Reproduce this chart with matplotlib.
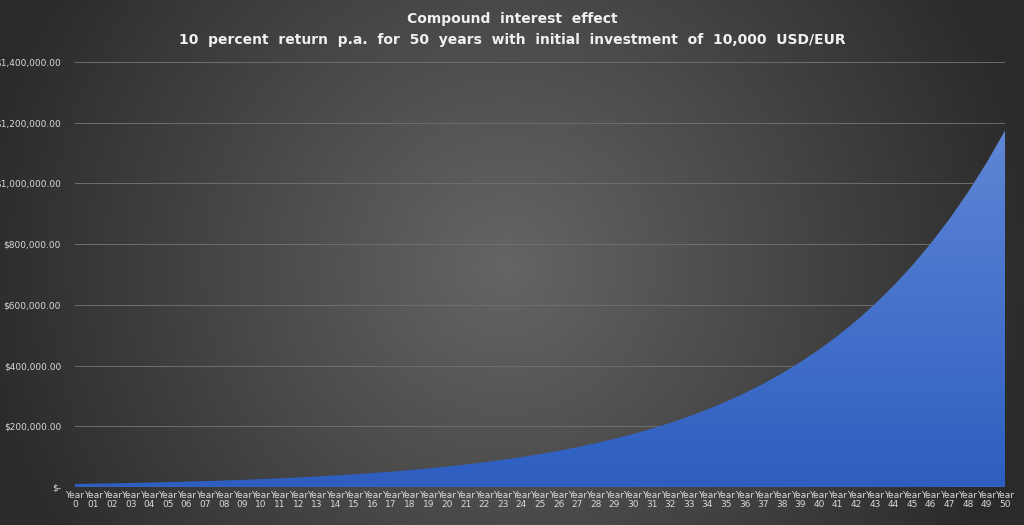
import matplotlib.pyplot as plt
import numpy as np
from matplotlib.colors import LinearSegmentedColormap

years = ["Year\n0"] + ["Year\n%02d" % i for i in range(1, 51)]
values = [10000, 11000, 12100, 13310, 14641, 16105, 17716, 19487, 21436, 23579,
          25937, 28531, 31384, 34523, 37975, 41772, 45950, 50545, 55599, 61159,
          67275, 74002, 81403, 89543, 98497, 108347, 119182, 131100, 144210, 158631,
          174494, 191943, 211138, 232252, 255477, 281024, 309127, 340039, 374043, 411448,
          452593, 497852, 547637, 602401, 662641, 728905, 801795, 881975, 970172, 1067190,
          1173909]
yticks = [0, 200000, 400000, 600000, 800000, 1000000, 1200000, 1400000]
ylabels = ["$-"] + ["${:,.2f}".format(v) for v in yticks[1:]]

fig = plt.figure(figsize=(10.24, 5.25), dpi=100)

# radial background
bg = fig.add_axes([0, 0, 1, 1], zorder=0)
yy, xx = np.mgrid[0:525, 0:1024]
r = np.hypot(xx - 505, yy - 265) / 540
bg.imshow(np.clip(r, 0, 1), cmap=LinearSegmentedColormap.from_list("bg", ["#656565", "#2a2a2a"]),
          extent=[0, 1, 0, 1], aspect="auto", origin="upper")
bg.axis("off")

ax = fig.add_axes([75 / 1024, 38 / 525, 930 / 1024, 425 / 525], zorder=1)
ax.patch.set_alpha(0)
x = np.arange(len(values))
poly = ax.fill_between(x, values, 0, color="none")
grad = ax.imshow(np.linspace(1, 0, 256).reshape(-1, 1),
                 cmap=LinearSegmentedColormap.from_list("b", ["#2d5ec0", "#5f86d6"]),
                 extent=[0, 50, 0, 1173909], aspect="auto", origin="upper", zorder=2)
grad.set_clip_path(poly.get_paths()[0], transform=ax.transData)
ax.set_xlim(0, 50)
ax.set_ylim(0, 1400000)
ax.set_yticks(yticks)
ax.set_yticklabels(ylabels)
ax.set_xticks(x)
ax.set_xticklabels(years, linespacing=1.0)
ax.grid(axis="y", color="#6e6e6e", linewidth=0.7)
ax.set_axisbelow(True)
ax.tick_params(axis="both", colors="#d9d9d9", labelsize=6.5, length=0)
ax.tick_params(axis="y", pad=10)
ax.tick_params(axis="x", pad=3)
for s in ax.spines.values():
    s.set_visible(False)
ax.axhline(0, color="#8c8c8c", linewidth=0.8, zorder=3)

fig.text(0.5, 0.963, "Compound  interest  effect", ha="center", va="center",
         color="#f0f0f0", fontsize=10, fontweight="bold")
fig.text(0.5, 0.923, "10  percent  return  p.a.  for  50  years  with  initial  investment  of  10,000  USD/EUR",
         ha="center", va="center", color="#f0f0f0", fontsize=10, fontweight="bold")

fig.savefig("out.png", dpi=100)
